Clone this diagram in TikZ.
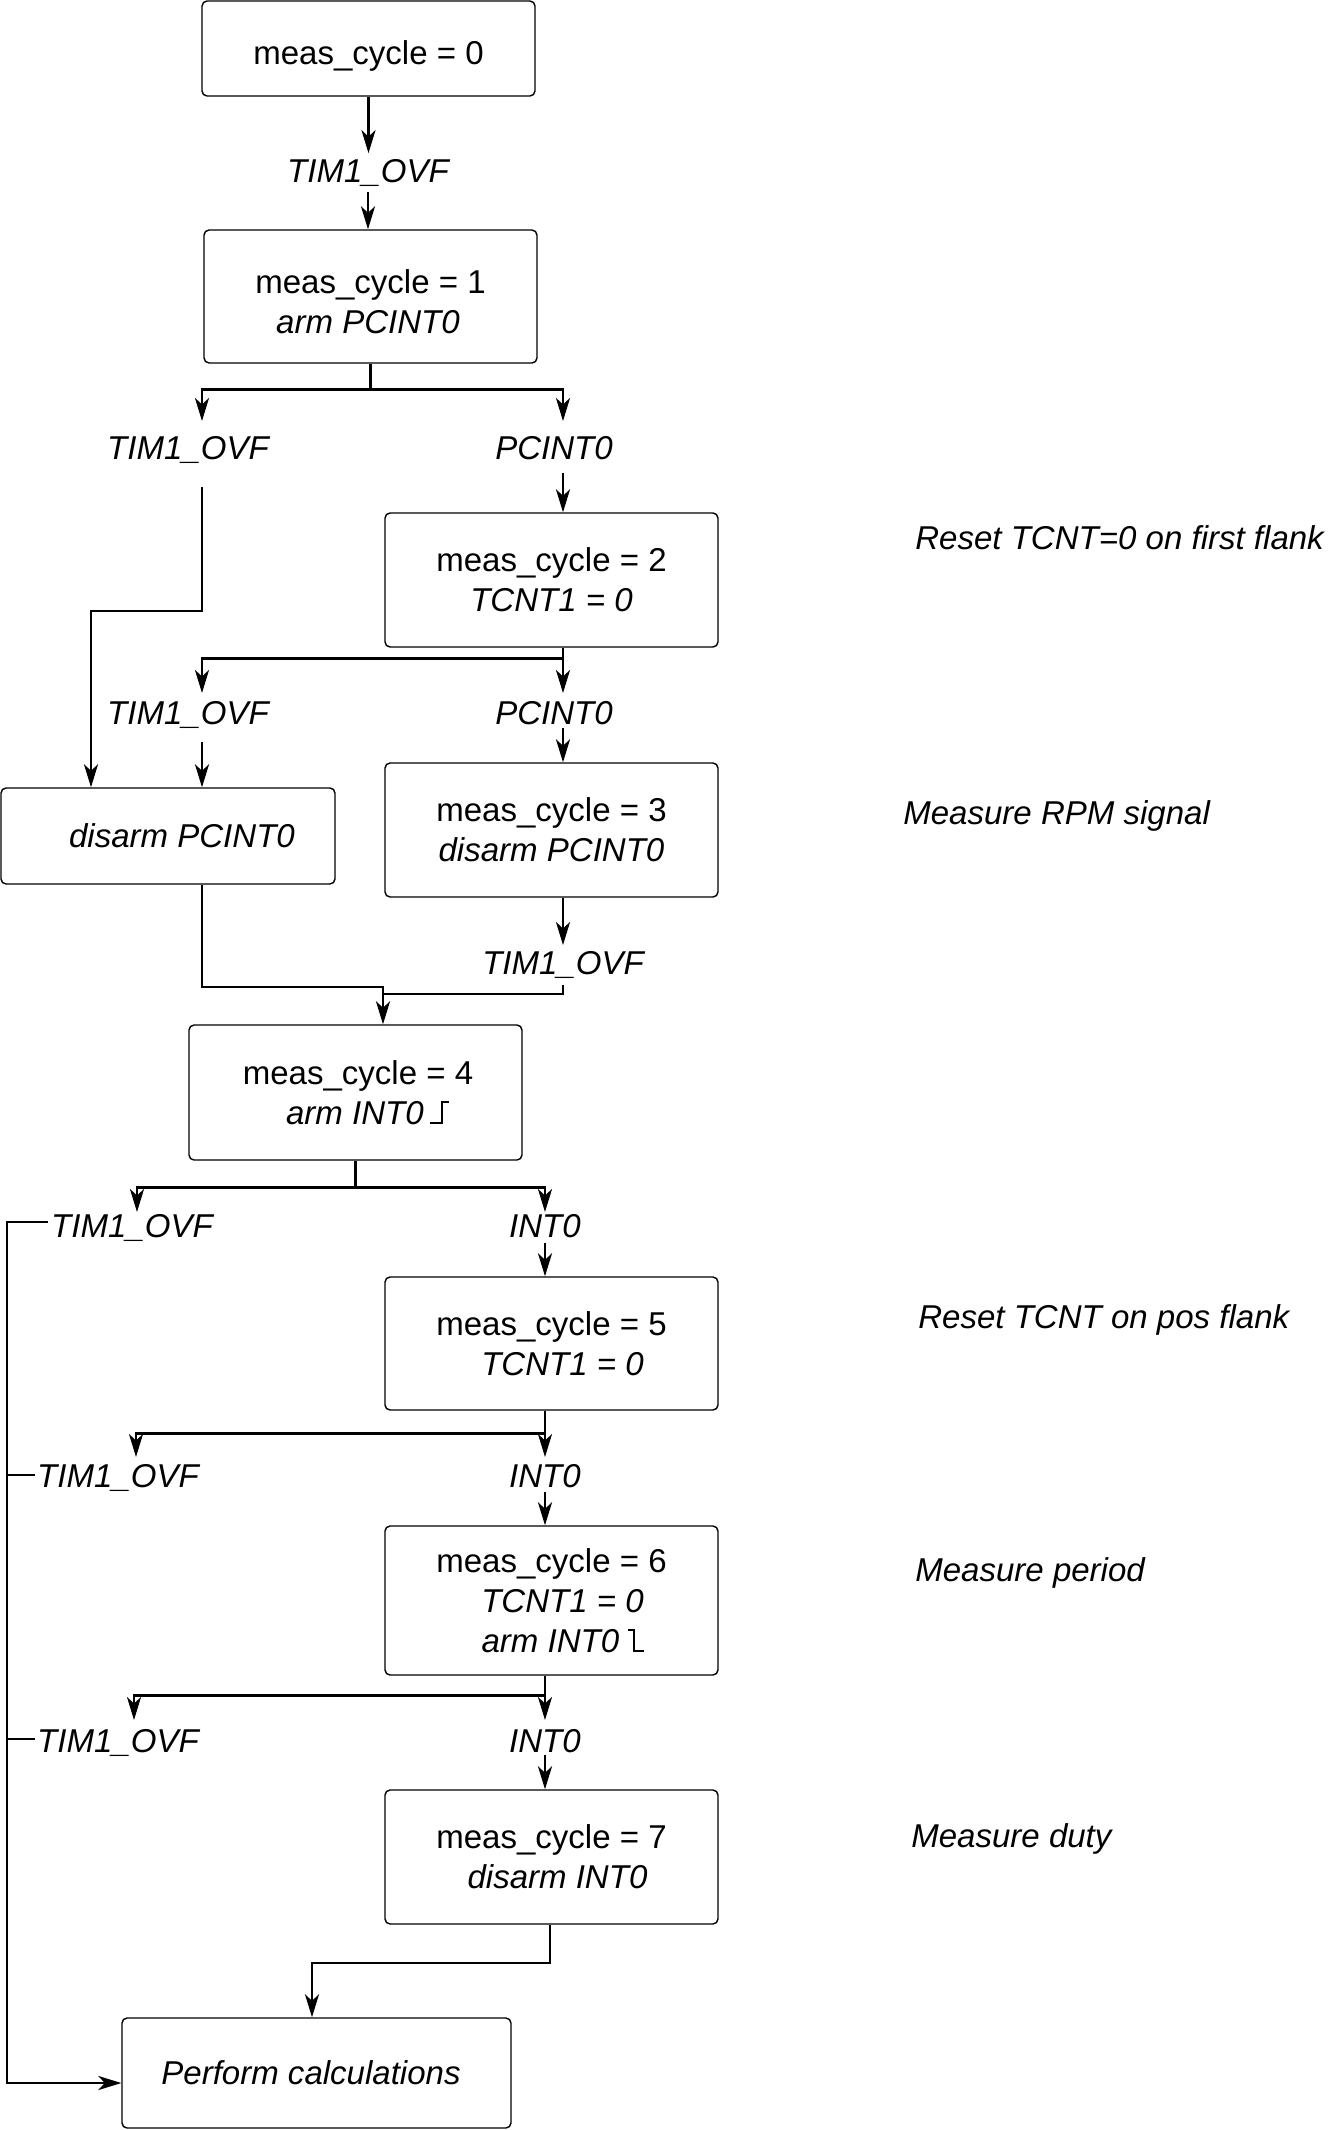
\documentclass[tikz,border=0pt]{standalone}
\usepackage{fontspec}
\setmainfont{Liberation Sans}
\usetikzlibrary{arrows.meta}
\newcommand{\riseedge}{\hspace{0.2em}\rule{0.33em}{0.06em}\rule{0.06em}{0.7em}\raisebox{0.64em}{\rule{0.17em}{0.06em}}}
\newcommand{\falledge}{\hspace{0.25em}\raisebox{0.64em}{\rule{0.18em}{0.06em}}\rule{0.06em}{0.7em}\rule{0.27em}{0.06em}}
\newcommand{\fs}{\fontsize{18.8pt}{22.7pt}\selectfont}
\begin{document}
\begin{tikzpicture}[x=0.02cm, y=-0.02cm,
  box/.style={draw, line width=0.8pt, rounded corners=0.1cm, align=center, inner sep=0pt, font=\fs, minimum width=6.66cm},
  lab/.style={font=\fs\itshape, inner sep=0pt, outer sep=0pt, text height=0.472cm, text depth=0.2cm, anchor=base},
  note/.style={font=\fs\itshape, inner sep=0pt, anchor=base west},
  arr/.style={line width=1.5pt, -{Stealth[length=0.46cm, width=0.28cm, inset=0.13cm]}},
  ln/.style={line width=1.5pt}]
\useasboundingbox (0,0) rectangle (1328,2130);

% boxes
\node[box, minimum height=1.90cm, text height=0.8cm, text depth=0.14cm] (b0) at (368.5,48.5) {meas\_cycle = 0};
\node[box, minimum height=2.66cm] (b1) at (370.5,296.5) {\rule{0pt}{0.68cm}meas\_cycle = 1\\\textit{arm PCINT0}\hspace*{0.1cm}};
\node[box, minimum height=2.68cm] (b2) at (551.5,580) {meas\_cycle = 2\\\textit{TCNT1 = 0}};
\node[box, minimum height=1.92cm, minimum width=6.68cm] (bd) at (168,836) {\hspace*{0.56cm}\textit{disarm PCINT0}};
\node[box, minimum height=2.68cm] (b3) at (551.5,830) {meas\_cycle = 3\\\textit{disarm PCINT0}};
\node[box, minimum height=2.70cm] (b4) at (355.5,1092.5) {\hspace*{0.1cm}meas\_cycle = 4\\\hspace*{0.48cm}\textit{arm INT0}\riseedge};
\node[box, minimum height=2.66cm] (b5) at (551.5,1343.5) {meas\_cycle = 5\\\hspace*{0.44cm}\textit{TCNT1 = 0}};
\node[box, minimum height=2.98cm] (b6) at (551.5,1600.5) {meas\_cycle = 6\\\hspace*{0.44cm}\textit{TCNT1 = 0}\\\hspace*{0.46cm}\textit{arm INT0}\falledge};
\node[box, minimum height=2.68cm] (b7) at (551.5,1857) {meas\_cycle = 7\\\hspace*{0.24cm}\textit{disarm INT0}};
\node[box, minimum height=2.20cm, minimum width=7.78cm] (bp) at (316.5,2073) {\textit{Perform calculations}\hspace*{0.22cm}};

% event labels
\node[lab] (l0) at (368,182) {TIM1\_OVF};
\node[lab] (l1a) at (188,459) {TIM1\_OVF};
\node[lab] (l1b) at (554,459) {PCINT0};
\node[lab] (l2a) at (188,724) {TIM1\_OVF};
\node[lab] (l2b) at (554,724) {PCINT0};
\node[lab] (l3) at (563,974) {TIM1\_OVF};
\node[lab] (l4a) at (132,1237) {TIM1\_OVF};
\node[lab] (l4b) at (545,1237) {INT0};
\node[lab] (l5a) at (118,1487) {TIM1\_OVF};
\node[lab] (l5b) at (545,1487) {INT0};
\node[lab] (l6a) at (118,1752) {TIM1\_OVF};
\node[lab] (l6b) at (545,1752) {INT0};

% annotations
\node[note] (n1) at (915,549) {Reset TCNT=0 on first flank};
\node[note] (n2) at (903,824) {Measure RPM signal};
\node[note] (n3) at (918,1328) {Reset TCNT on pos flank};
\node[note] (n4) at (915,1581) {Measure period};
\node[note] (n5) at (911,1847) {Measure duty};

% coordinates
\coordinate (t1a) at (202,421);
\coordinate (t1b) at (563,421);
\coordinate (s1a) at (202,487);
\coordinate (s1b) at (563,473);
\coordinate (j1) at (91,611);
\coordinate (t2a) at (202,693);
\coordinate (t2b) at (563,693);
\coordinate (s2a) at (202,742);
\coordinate (s2b) at (563,728);
\coordinate (t3) at (563,945);
\coordinate (s3) at (563,985);
\coordinate (k3) at (563,994);
\coordinate (m4) at (383,987);
\coordinate (t4a) at (137,1212);
\coordinate (t4b) at (545,1212);
\coordinate (s4b) at (545,1243);
\coordinate (t5a) at (136,1457);
\coordinate (t5b) at (545,1457);
\coordinate (s5b) at (545,1492);
\coordinate (t6a) at (134,1720);
\coordinate (t6b) at (545,1720);
\coordinate (s6b) at (545,1755);
\coordinate (k7a) at (550,1963);
\coordinate (k7) at (312,1963);
\coordinate (c4) at (48,1222);
\coordinate (c5) at (35,1475);
\coordinate (c6) at (35,1739);
\coordinate (k9) at (7,2083);

% connectors
\draw[arr, shorten >=3pt] (b0.south) -- (b0.south |- l0.north);
\draw[arr] (l0.south) -- (l0.south |- b1.north);

\draw[arr] (b1.south) -- ++(0,26) -| (t1a);
\draw[arr] (b1.south) -- ++(0,26) -| (t1b);
\draw[arr] (s1a) -- (s1a |- j1) -- (j1) -- (j1 |- bd.north);
\draw[arr] (s1b) -- (s1b |- b2.north);

\draw[arr] (b2.south -| t2b) -- (t2b);
\draw[arr] (b2.south -| t2b) -- ++(0,11) -| (t2a);
\draw[arr] (s2a) -- (s2a |- bd.north);
\draw[arr] (s2b) -- (s2b |- b3.north);

\draw[arr] (b3.south -| t3) -- (t3);
\draw[ln] (s3) -- (k3) -- (k3 -| m4);
\draw[arr] (bd.south -| s2a) |- (m4) -- (m4 |- b4.north);

\draw[arr] (b4.south) -- ++(0,27) -| (t4a);
\draw[arr] (b4.south) -- ++(0,27) -| (t4b);
\draw[arr] (s4b) -- (s4b |- b5.north);

\draw[arr] (b5.south -| t5b) -- (t5b);
\draw[arr] (b5.south -| t5b) -- ++(0,23) -| (t5a);
\draw[arr] (s5b) -- (s5b |- b6.north);

\draw[arr] (b6.south -| t6b) -- (t6b);
\draw[arr] (b6.south -| t6b) -- ++(0,20) -| (t6a);
\draw[arr] (s6b) -- (s6b |- b7.north);

\draw[arr] (b7.south -| k7a) -- (k7a) -- (k7) -- (k7 |- bp.north);

\draw[ln] (c5) -- (c5 -| k9);
\draw[ln] (c6) -- (c6 -| k9);
\draw[arr] (c4) -| (k9) -- (k9 -| bp.west);
\end{tikzpicture}
\end{document}
